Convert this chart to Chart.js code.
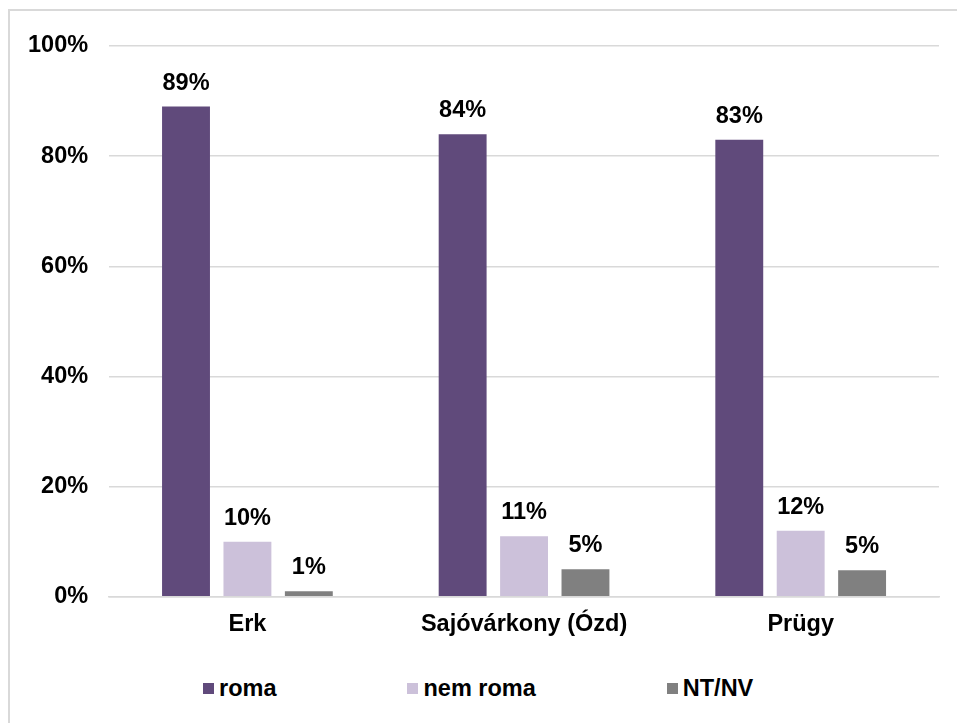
<!DOCTYPE html>
<html>
<head>
<meta charset="utf-8">
<script src="https://cdn.jsdelivr.net/npm/chart.js@4/dist/chart.umd.min.js"></script>
<style>
  html, body { margin: 0; padding: 0; background: #fff; }
  #wrap { position: relative; width: 957px; height: 723px; overflow: hidden; }
  #frame { position: absolute; left: 8px; top: 9px; width: 1000px; height: 800px; border: 2px solid #d9d9d9; }
  #chart { position: absolute; left: 0; top: 0; }
  #legend { position: absolute; left: 203px; top: 674px; display: flex; gap: 131px;
            font: bold 23.5px "Liberation Sans", Arial, sans-serif; color: #000; }
  #legend .item { display: flex; align-items: center; line-height: 28px; }
  #legend .box { width: 11px; height: 11px; margin-right: 5px; }
</style>
</head>
<body>
<div id="wrap">
  <div id="frame"></div>
  <canvas id="chart" width="957" height="660"></canvas>
  <div id="legend"></div>
</div>
<script>
// Chart data (percent)
const categories = ['Erk', 'Sajóvárkony (Ózd)', 'Prügy'];
const seriesNames = ['roma', 'nem roma', 'NT/NV'];
const romaValues = [89, 84, 83];
const nemRomaValues = [10, 11, 12];
const ntnvValues = [1, 5, 4.8];
const yTicks = [0, 20, 40, 60, 80, 100];

const colors = ['#604a7b', '#ccc1da', '#808080'];
const font = { family: '"Liberation Sans", Arial, sans-serif', size: 23.5, weight: 'bold' };

// Value labels drawn above each bar
const barLabels = {
  id: 'barLabels',
  afterDatasetsDraw(chart) {
    const ctx = chart.ctx;
    ctx.save();
    ctx.font = 'bold 23.5px "Liberation Sans", Arial, sans-serif';
    ctx.fillStyle = '#000';
    ctx.textAlign = 'center';
    ctx.textBaseline = 'alphabetic';
    chart.data.datasets.forEach((ds, i) => {
      chart.getDatasetMeta(i).data.forEach((bar, j) => {
        ctx.fillText(Math.round(ds.data[j]) + '%', bar.x, bar.y - 17);
      });
    });
    ctx.restore();
  }
};

const allValues = [romaValues, nemRomaValues, ntnvValues];

new Chart(document.getElementById('chart'), {
  type: 'bar',
  data: {
    labels: categories,
    datasets: seriesNames.map((name, i) => ({
      label: name,
      data: allValues[i],
      backgroundColor: colors[i],
      categoryPercentage: 0.666,
      barPercentage: 0.78
    }))
  },
  options: {
    responsive: false,
    animation: false,
    layout: { padding: { left: 7, right: 18, top: 46, bottom: 15 } },
    plugins: {
      legend: { display: false },
      tooltip: { enabled: false }
    },
    scales: {
      x: {
        grid: { display: false },
        border: { color: '#d9d9d9', width: 1.5 },
        ticks: { color: '#000', font: font, padding: 6 }
      },
      y: {
        min: 0,
        max: 100,
        afterBuildTicks(axis) { axis.ticks = yTicks.map(v => ({ value: v })); },
        grid: { color: '#d9d9d9', lineWidth: 1.5, drawTicks: false },
        border: { display: false },
        ticks: { color: '#000', font: font, padding: 21, callback: v => v + '%' }
      }
    }
  },
  plugins: [barLabels]
});

// HTML legend
const legend = document.getElementById('legend');
seriesNames.forEach((name, i) => {
  const item = document.createElement('div');
  item.className = 'item';
  const box = document.createElement('span');
  box.className = 'box';
  box.style.background = colors[i];
  const txt = document.createElement('span');
  txt.textContent = name;
  item.appendChild(box);
  item.appendChild(txt);
  legend.appendChild(item);
});
</script>
</body>
</html>
